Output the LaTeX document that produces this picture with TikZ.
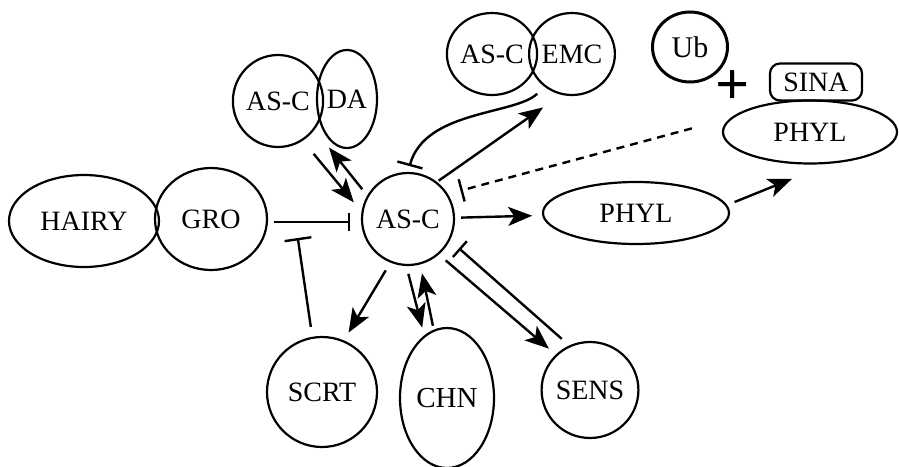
\documentclass[tikz,border=0pt]{standalone}
\usepackage{fontspec}
\setmainfont{Liberation Serif}
\usetikzlibrary{shapes.geometric,arrows.meta,calc}

\begin{document}
\begin{tikzpicture}[x=0.5pt,y=-0.5pt,
  every node/.style={font=\fontsize{14}{16}\selectfont},
  blob/.style={draw, ellipse, line width=1.1pt, inner sep=0pt},
  act/.style={line width=1.2pt, -{Stealth[length=12pt,width=9.5pt,inset=3pt]}},
  inh/.style={line width=1.2pt, -{Bar[width=#1]}},
  inh/.default=11pt]
\useasboundingbox (0,0) rectangle (899,466);

\node (hairy) [blob, minimum width=75pt, minimum height=46pt] at (84,221) {HAIRY};
\node (gro) [blob, minimum width=56pt, minimum height=51pt] at (211,219) {GRO};
\node (asc) [blob, minimum width=46pt, minimum height=46pt] at (408,219) {AS-C};
\node (ascda) [blob, minimum width=42pt, minimum height=46pt] at (278,101) {AS-C};
\node (da) [blob, minimum width=30pt, minimum height=49pt] at (347,99) {DA};
\node (ascemc) [blob, minimum width=42.5pt, minimum height=41pt] at (492,54) {AS-C};
\node (emc) [blob, minimum width=42.5pt, minimum height=41pt] at (572,54) {EMC};
\node (ub) [blob, line width=1.5pt, minimum width=37.5pt, minimum height=35pt, font=\fontsize{15}{17}\selectfont] at (690,47) {Ub};
\node (plus) [font=\fontsize{30}{30}\selectfont\bfseries] at (733,88) {+};
\node (sina) [draw, line width=1.1pt, rounded corners=5pt, minimum width=46pt, minimum height=18.5pt, inner sep=0pt] at (816,82) {SINA};
\node (phylc) [blob, minimum width=87pt, minimum height=31.5pt] at (810,132) {PHYL};
\node (phyl) [blob, minimum width=93pt, minimum height=31pt] at (636,213) {PHYL};
\node (scrt) [blob, minimum width=55pt, minimum height=55pt] at (322,392) {SCRT};
\node (chn) [blob, minimum width=47pt, minimum height=70pt, font=\fontsize{14.5}{16}\selectfont] at (447,398) {CHN};
\node (sens) [blob, minimum width=48pt, minimum height=48pt] at (590,390) {SENS};

% repression of AS-C by HAIRY/GRO, and SCRT acting on it
\draw[inh=9pt, shorten <=3pt, shorten >=5.5pt] ([yshift=-1.5pt]gro.east) -- ([yshift=-1.5pt]asc.west);
\coordinate (grobar) at ($(gro.east)!0.32!(asc.west)+(0,19)$);
\draw[inh=13.5pt, shorten <=5pt] (scrt.100) -- (grobar);

% targets of AS-C
\draw[act, shorten <=4.5pt, shorten >=4.5pt] (asc.-112) -- (scrt.67);
\draw[act, shorten <=4pt, shorten >=4pt] (asc.-92) -- (chn.110);
\draw[act, shorten <=2pt, shorten >=4.5pt] (chn.101) -- (asc.-75);
\draw[act, shorten <=4.5pt, shorten >=4.5pt] (asc.-49) -- (sens.134);
\draw[inh=10.5pt, shorten <=5pt, shorten >=6pt] (sens.115) -- (asc.-27);
\draw[act, shorten <=3pt, shorten >=5pt] (asc) -- (phyl);
\draw[act, shorten <=4pt, shorten >=20pt] (phyl.5) -- (phylc.-59);

% complexes
\draw[act, shorten <=8.5pt, shorten >=6pt] (ascda.-58) -- (asc.171);
\draw[act, shorten <=4pt, shorten >=11.5pt] (asc.150) -- (ascda.-38);
\draw[act, shorten <=1pt, shorten >=11pt] (asc.52) -- (emc.-105);
\draw[inh=13pt, shorten <=5pt, shorten >=3pt] (emc.-130) .. controls (515,115) and (425,110) .. (asc.north);
\draw[inh=11.5pt, dash pattern=on 4pt off 3pt, shorten <=20pt, shorten >=6.5pt] (phylc.170) -- (asc.32);
\end{tikzpicture}
\end{document}
